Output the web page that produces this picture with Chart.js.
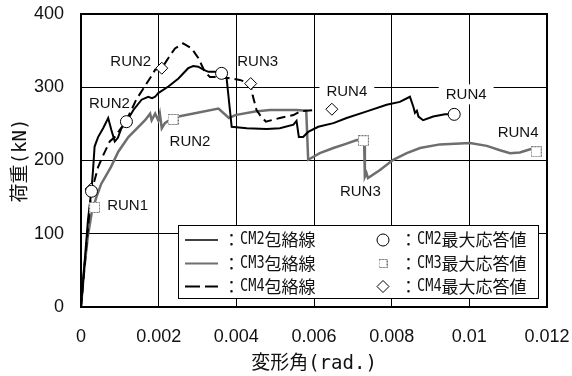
<!DOCTYPE html>
<html>
<head>
<meta charset="utf-8">
<script src="https://cdn.jsdelivr.net/npm/chart.js@4/dist/chart.umd.min.js"></script>
<style>
  html, body { margin: 0; padding: 0; background: #fff; }
  #wrap { width: 572px; height: 376px; }
</style>
</head>
<body>
<div id="wrap"><canvas id="c" width="572" height="376"></canvas></div>
<script>
// Envelope curves: drift angle (rad) against load (kN)
const cm2Drift = [0, 0.00018, 0.00027, 0.00031, 0.00035, 0.00044, 0.00057, 0.00070, 0.00078, 0.00087, 0.00095, 0.00104, 0.00117, 0.00135, 0.00156, 0.00173, 0.00183, 0.00191, 0.00199, 0.00225, 0.00251, 0.00276, 0.00289, 0.00302, 0.00315, 0.00328, 0.00345, 0.00362, 0.00375, 0.00388, 0.00427, 0.00478, 0.00512, 0.00547, 0.00555, 0.00561, 0.00572, 0.00585, 0.00611, 0.00650, 0.00684, 0.00736, 0.00787, 0.00821, 0.00847, 0.00856, 0.00860, 0.00865, 0.00869, 0.00881, 0.00907, 0.00937, 0.00961];
const cm2Load  = [0, 119, 160, 187, 219, 232, 244, 258, 242, 226, 231, 244, 253, 269, 283, 287, 285, 287, 292, 301, 312, 326, 329, 328, 324, 321, 321, 319, 312, 246, 244, 243, 244, 249, 254, 232, 232, 239, 246, 251, 258, 267, 276, 280, 287, 273, 265, 268, 260, 255, 260, 263, 263];

const cm3Drift = [0, 0.00008, 0.00018, 0.00028, 0.00039, 0.00052, 0.00077, 0.00096, 0.00122, 0.00148, 0.00165, 0.00178, 0.00182, 0.00191, 0.00199, 0.00203, 0.00208, 0.00216, 0.00236, 0.00251, 0.00354, 0.00381, 0.00397, 0.00448, 0.00487, 0.00555, 0.00580, 0.00585, 0.00615, 0.00650, 0.00684, 0.00710, 0.00729, 0.00731, 0.00735, 0.00739, 0.00770, 0.00804, 0.00839, 0.00873, 0.00924, 0.01002, 0.01045, 0.01079, 0.01105, 0.01130, 0.01161];
const cm3Load  = [0, 50, 98, 130, 149, 168, 191, 212, 232, 246, 255, 264, 255, 264, 255, 264, 244, 251, 258, 260, 271, 258, 262, 267, 269, 269, 268, 201, 210, 217, 223, 228, 227, 178, 183, 176, 187, 201, 210, 217, 222, 224, 220, 214, 210, 211, 216];

const cm4Drift = [0, 0.00013, 0.00027, 0.00035, 0.00044, 0.00057, 0.00074, 0.00087, 0.00100, 0.00113, 0.00130, 0.00142, 0.00164, 0.00181, 0.00191, 0.00208, 0.00225, 0.00242, 0.00263, 0.00285, 0.00302, 0.00319, 0.00332, 0.00354, 0.00375, 0.00409, 0.00437, 0.00442, 0.00452, 0.00461, 0.00476, 0.00512, 0.00547, 0.00564, 0.00603];
const cm4Load  = [0, 78, 160, 173, 191, 207, 226, 232, 242, 251, 269, 283, 301, 315, 324, 326, 340, 353, 360, 353, 340, 321, 314, 314, 313, 310, 305, 289, 269, 262, 253, 258, 262, 267, 269];

// Maximum response of each run
const runNames = ['RUN1', 'RUN2', 'RUN3', 'RUN4'];
const cm2PeakDrift = [0.00027, 0.00117, 0.00362, 0.00961];
const cm2PeakLoad  = [158, 253, 319, 263];
const cm3PeakDrift = [0.00035, 0.00237, 0.00727, 0.01172];
const cm3PeakLoad  = [136, 256, 227, 212];
const cm4PeakDrift = [0.00026, 0.00208, 0.00437, 0.00646];
const cm4PeakLoad  = [161, 326, 305, 270];

const specimenNames = ['CM2', 'CM3', 'CM4'];
const xTickLabels = ['0', '0.002', '0.004', '0.006', '0.008', '0.01', '0.012'];
const yTickLabels = ['0', '100', '200', '300', '400'];

const zip = (xs, ys) => xs.map((x, i) => ({ x: x, y: ys[i] }));

// Dotted grey square used for the CM3 peak markers
function dottedSquare(size) {
  const c = document.createElement('canvas');
  c.width = size; c.height = size;
  const g = c.getContext('2d');
  g.fillStyle = '#fff';
  g.fillRect(0, 0, size, size);
  g.strokeStyle = '#6a6a6a';
  g.lineWidth = 1;
  g.setLineDash([2, 1]);
  g.strokeRect(0.5, 0.5, size - 1, size - 1);
  return c;
}
const squareMark = dottedSquare(11);
const squareMarkSmall = dottedSquare(9);

const peaks = {
  cm2: { x: cm2PeakDrift, y: cm2PeakLoad },
  cm3: { x: cm3PeakDrift, y: cm3PeakLoad },
  cm4: { x: cm4PeakDrift, y: cm4PeakLoad }
};

// Where each run label sits relative to its marker (pixels)
const runLabelPlacement = [
  { series: 'cm4', run: 1, dx: -31, dy: -7 },
  { series: 'cm2', run: 1, dx: -17, dy: -19 },
  { series: 'cm3', run: 0, dx: 33, dy: -3 },
  { series: 'cm3', run: 1, dx: 17, dy: 21 },
  { series: 'cm4', run: 2, dx: 7, dy: -23 },
  { series: 'cm4', run: 3, dx: 15, dy: -18, box: true },
  { series: 'cm2', run: 3, dx: 12, dy: -20, box: true },
  { series: 'cm3', run: 2, dx: -3, dy: 50 },
  { series: 'cm3', run: 3, dx: -18, dy: -20 }
];

// Grid lines from the scale ticks
function strokeGrid(chart) {
  const { ctx, chartArea: a, scales } = chart;
  ctx.strokeStyle = '#000';
  ctx.lineWidth = 1;
  ctx.beginPath();
  scales.x.ticks.forEach(t => {
    const px = Math.round(scales.x.getPixelForValue(t.value) - 0.5) + 0.5;
    ctx.moveTo(px, a.top); ctx.lineTo(px, a.bottom);
  });
  scales.y.ticks.forEach(t => {
    const py = Math.round(scales.y.getPixelForValue(t.value) - 0.5) + 0.5;
    ctx.moveTo(a.left, py); ctx.lineTo(a.right, py);
  });
  ctx.stroke();
}

function gridVisible(chart) {
  const { ctx, chartArea: a, scales } = chart;
  const px = Math.round(scales.x.getPixelForValue(0.006));
  const py = Math.round(a.top + 6);
  const d = ctx.getImageData(px - 2, py, 5, 1).data;
  for (let i = 0; i < d.length; i += 4) {
    if (d[i + 3] > 100 && d[i] < 128) return true;
  }
  return false;
}

// Keep the grid underneath the data and close the frame on all four sides
const plotFrame = {
  id: 'plotFrame',
  afterDatasetsDraw(chart) {
    const { ctx, chartArea: a } = chart;
    if (!gridVisible(chart)) {
      ctx.save();
      ctx.globalCompositeOperation = 'destination-over';
      strokeGrid(chart);
      ctx.restore();
      if (!gridVisible(chart)) {
        ctx.save();
        strokeGrid(chart);
        ctx.restore();
        [0, 1, 2].forEach(i => chart.getDatasetMeta(i).controller.draw());
      }
    }
    ctx.save();
    ctx.strokeStyle = '#000';
    ctx.lineWidth = 2;
    ctx.strokeRect(a.left, a.top, a.right - a.left, a.bottom - a.top);
    ctx.restore();
  }
};

const runLabels = {
  id: 'runLabels',
  afterDatasetsDraw(chart) {
    const { ctx, scales } = chart;
    ctx.save();
    ctx.font = "15px 'Liberation Sans', Arial, sans-serif";
    ctx.textAlign = 'center';
    ctx.textBaseline = 'middle';
    runLabelPlacement.forEach(p => {
      const s = peaks[p.series];
      const px = scales.x.getPixelForValue(s.x[p.run]) + p.dx;
      const py = scales.y.getPixelForValue(s.y[p.run]) + p.dy;
      const text = runNames[p.run];
      if (p.box) {
        const w = ctx.measureText(text).width + 14;
        ctx.fillStyle = '#fff';
        ctx.fillRect(px - w / 2, py - 10, w, 20);
      }
      ctx.fillStyle = '#111';
      ctx.fillText(text, px, py + 1);
    });
    ctx.restore();
  }
};

// Half-width characters in a condensed monospace, the rest in the CJK face
function drawMixed(ctx, str, x, y, size) {
  let cx = x;
  const runs = str.match(/[\x20-\x7e]+|[^\x20-\x7e]+/g);
  runs.forEach(r => {
    if (/^[\x20-\x7e]/.test(r)) {
      ctx.font = size + "px 'DejaVu Sans Mono'";
      const w = ctx.measureText(r).width * 0.8;
      ctx.save();
      ctx.translate(cx, y);
      ctx.scale(0.8, 1);
      ctx.fillText(r, 0, 0);
      ctx.restore();
      cx += w;
    } else {
      ctx.font = size + "px 'Noto Sans CJK JP'";
      ctx.fillText(r, cx, y);
      cx += ctx.measureText(r).width;
    }
  });
}

const boxLegend = {
  id: 'boxLegend',
  afterDraw(chart) {
    const { ctx, chartArea: a } = chart;
    const left = a.left + 97, top = a.bottom - 82, w = 360, h = 73;
    ctx.save();
    ctx.fillStyle = '#fff';
    ctx.fillRect(left, top, w, h);
    ctx.strokeStyle = '#000';
    ctx.lineWidth = 1;
    ctx.strokeRect(left + 0.5, top + 0.5, w, h);

    const rows = [top + 15, top + 38.5, top + 61.5];
    const lineStyles = [
      { color: '#000', width: 1.5, dash: [] },
      { color: '#6e6e6e', width: 2, dash: [] },
      { color: '#000', width: 2, dash: [15, 5] }
    ];
    const markX = left + 205;
    rows.forEach((y, i) => {
      const ls = lineStyles[i];
      ctx.strokeStyle = ls.color;
      ctx.lineWidth = ls.width;
      ctx.setLineDash(ls.dash);
      ctx.beginPath();
      ctx.moveTo(left + 7, y);
      ctx.lineTo(left + 40, y);
      ctx.stroke();
      ctx.setLineDash([]);

      ctx.fillStyle = '#111';
      ctx.textAlign = 'left';
      ctx.textBaseline = 'middle';
      drawMixed(ctx, '：' + specimenNames[i] + '包絡線', left + 45, y, 17);
      drawMixed(ctx, '：' + specimenNames[i] + '最大応答値', left + 222, y, 17);

      ctx.strokeStyle = '#000';
      ctx.lineWidth = 1;
      ctx.fillStyle = '#fff';
      if (i === 0) {
        ctx.beginPath();
        ctx.arc(markX, y, 6, 0, Math.PI * 2);
        ctx.fill(); ctx.stroke();
      } else if (i === 1) {
        ctx.drawImage(squareMarkSmall, markX - 4.5, y - 4.5);
      } else {
        ctx.beginPath();
        ctx.moveTo(markX, y - 6);
        ctx.lineTo(markX + 6, y);
        ctx.lineTo(markX, y + 6);
        ctx.lineTo(markX - 6, y);
        ctx.closePath();
        ctx.fill(); ctx.stroke();
      }
    });
    ctx.restore();
  }
};

const tickFont = { family: "'Liberation Sans', Arial, sans-serif", size: 18 };
const titleFont = { family: "'DejaVu Sans Mono', 'Noto Sans CJK JP', sans-serif", size: 19 };

new Chart(document.getElementById('c'), {
  type: 'scatter',
  data: {
    datasets: [
      { label: 'CM2最大応答値', data: zip(cm2PeakDrift, cm2PeakLoad), pointStyle: 'circle', pointRadius: 6, pointBackgroundColor: '#fff', pointBorderColor: '#000', pointBorderWidth: 1, showLine: false },
      { label: 'CM4最大応答値', data: zip(cm4PeakDrift, cm4PeakLoad), pointStyle: 'rectRot', pointRadius: 6, pointBackgroundColor: '#fff', pointBorderColor: '#000', pointBorderWidth: 1, showLine: false },
      { label: 'CM3最大応答値', data: zip(cm3PeakDrift, cm3PeakLoad), pointStyle: squareMark, pointRadius: 6, showLine: false },
      { label: 'CM2包絡線', data: zip(cm2Drift, cm2Load), showLine: true, borderColor: '#000', borderWidth: 2, pointRadius: 0, tension: 0 },
      { label: 'CM4包絡線', data: zip(cm4Drift, cm4Load), showLine: true, borderColor: '#000', borderWidth: 2, borderDash: [9, 5], pointRadius: 0, tension: 0 },
      { label: 'CM3包絡線', data: zip(cm3Drift, cm3Load), showLine: true, borderColor: '#6e6e6e', borderWidth: 2.5, pointRadius: 0, tension: 0 }
    ]
  },
  options: {
    responsive: false,
    devicePixelRatio: 1,
    animation: false,
    layout: { padding: { top: 14, right: 25, left: 0, bottom: 0 } },
    plugins: { legend: { display: false }, tooltip: { enabled: false } },
    scales: {
      x: {
        type: 'linear',
        min: 0, max: 0.012,
        afterFit: s => { s.height = 69; s.paddingLeft = 0; s.paddingRight = 0; },
        border: { display: true, color: '#000', width: 2 },
        grid: { color: '#000', lineWidth: 1, drawTicks: false },
        ticks: {
          stepSize: 0.002, autoSkip: false, maxRotation: 0, padding: 19,
          color: '#111', font: tickFont,
          callback: (v, i) => xTickLabels[i]
        },
        title: { display: true, text: '変形角(rad.)', color: '#111', font: titleFont, padding: { top: 0, bottom: 1 } }
      },
      y: {
        type: 'linear',
        min: 0, max: 400,
        afterFit: s => { s.width = 81; s.paddingTop = 0; s.paddingBottom = 0; },
        border: { display: true, color: '#000', width: 2 },
        grid: { color: '#000', lineWidth: 1, drawTicks: false },
        ticks: {
          stepSize: 100, padding: 17,
          color: '#111', font: tickFont,
          callback: (v, i) => yTickLabels[i]
        },
        title: { display: true, text: '荷重(kN)', color: '#111', font: titleFont, padding: { top: 10, bottom: 0 } }
      }
    }
  },
  plugins: [plotFrame, runLabels, boxLegend]
});
</script>
</body>
</html>
